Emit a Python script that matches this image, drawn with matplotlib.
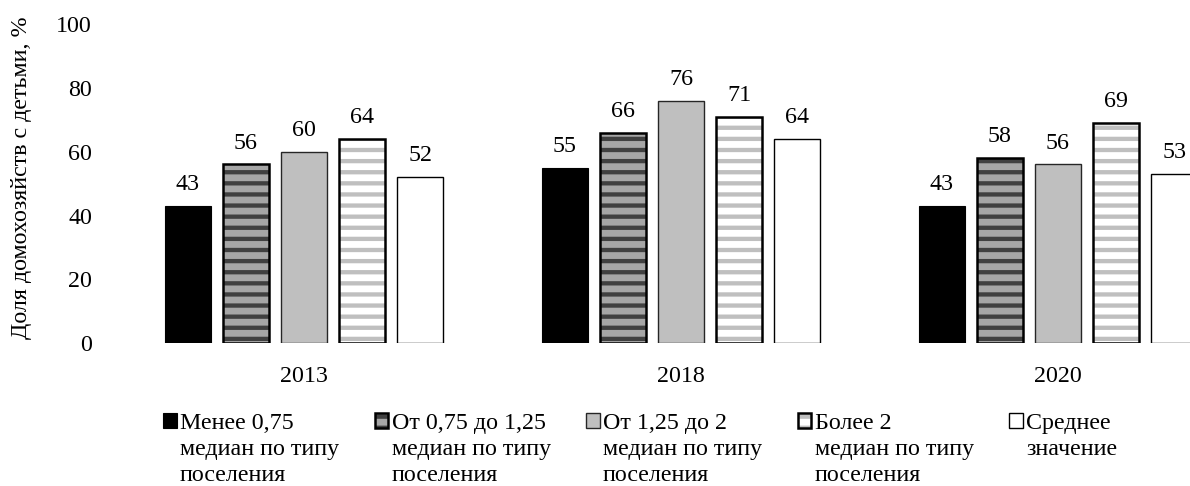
import matplotlib
matplotlib.use("Agg")
import matplotlib.pyplot as plt
import matplotlib.patches as mpatches
from matplotlib.backend_bases import GraphicsContextBase
import numpy as np

# finer hatch spacing (9 lines per inch instead of 6)
_orig_hatch_path = GraphicsContextBase.get_hatch_path
def _hatch_path(self, density=9.0):
    return _orig_hatch_path(self, density)
GraphicsContextBase.get_hatch_path = _hatch_path

FS = 17.3
plt.rcParams['font.family'] = ['Liberation Serif', 'DejaVu Serif']
plt.rcParams['font.size'] = FS
plt.rcParams['hatch.linewidth'] = 3.1

# ---- data ----
years = ["2013", "2018", "2020"]
series_names = [
    "Менее 0,75\nмедиан по типу\nпоселения",
    "От 0,75 до 1,25\nмедиан по типу\nпоселения",
    "От 1,25 до 2\nмедиан по типу\nпоселения",
    "Более 2\nмедиан по типу\nпоселения",
    "Среднее\nзначение",
]
less_075 = [43, 55, 43]
from_075_125 = [56, 66, 58]
from_125_2 = [60, 76, 56]
more_2 = [64, 71, 69]
average = [52, 64, 53]
values = [less_075, from_075_125, from_125_2, more_2, average]
y_ticks = [0, 20, 40, 60, 80, 100]
y_label = "Доля домохозяйств с детьми, %"

# ---- styles ----
styles = [
    dict(face="black", stripe=None, edge="black", lw=0.8),
    dict(face="#a6a6a6", stripe="#404040", edge="black", lw=1.8),
    dict(face="#bfbfbf", stripe=None, edge="#262626", lw=1.0),
    dict(face="white", stripe="#bfbfbf", edge="black", lw=1.8),
    dict(face="white", stripe=None, edge="black", lw=1.0),
]

W, H = 1190, 486
fig = plt.figure(figsize=(W / 100, H / 100), dpi=100)
ax_left, ax_right = 115.5, 1246.5
ax_bottom, ax_top = 486 - 343.3, 486 - 24.0
ax = fig.add_axes([ax_left / W, ax_bottom / H, (ax_right - ax_left) / W, (ax_top - ax_bottom) / H])

x = np.arange(len(years))
step = 0.154
width = 0.122
handles = []
for i, (vals, st) in enumerate(zip(values, styles)):
    pos = x + (i - 2) * step
    if st["stripe"] is not None:
        ax.bar(pos, vals, width, color=st["face"], edgecolor=st["stripe"],
               hatch="-", linewidth=0, zorder=2)
        ax.bar(pos, vals, width, facecolor="none", edgecolor=st["edge"],
               linewidth=st["lw"], zorder=3)
        h = (mpatches.Patch(facecolor=st["face"], edgecolor=st["stripe"], hatch="-", linewidth=0),
             mpatches.Patch(facecolor="none", edgecolor=st["edge"], linewidth=st["lw"]))
    else:
        ax.bar(pos, vals, width, color=st["face"], edgecolor=st["edge"],
               linewidth=st["lw"], zorder=2)
        h = mpatches.Patch(facecolor=st["face"], edgecolor=st["edge"], linewidth=st["lw"])
    handles.append(h)
    for xp, v in zip(pos, vals):
        ax.annotate(str(v), (xp, v), xytext=(0, 11.5), textcoords="offset points",
                    ha="center", va="baseline", fontsize=FS)

ax.set_xlim(-0.5, len(years) - 0.5)
ax.set_ylim(0, 100)
ax.set_yticks(y_ticks)
ax.set_xticks(x)
ax.set_xticklabels(years)
ax.tick_params(axis="y", length=0, pad=17, labelsize=FS)
ax.tick_params(axis="x", length=0, pad=16, labelsize=FS)
for s in ax.spines.values():
    s.set_visible(False)

ax.set_ylabel(y_label, fontsize=FS, va="center")
ax.yaxis.set_label_coords((22 - ax_left) / (ax_right - ax_left), 0.519)

leg = fig.legend(handles, series_names, loc="upper left",
                 bbox_to_anchor=(163 / W, 1 - 413 / H), bbox_transform=fig.transFigure,
                 ncol=5, frameon=False, borderpad=0, borderaxespad=0,
                 handlelength=0.58, handleheight=0.58, handletextpad=0.13,
                 columnspacing=1.47, fontsize=FS)
for t in leg.get_texts():
    t.set_linespacing(1.32)
hb = leg._legend_handle_box
hb.align = "top"
for col in hb.get_children():
    col.align = "left"
    for item in col.get_children():
        item.align = "top"

fig.savefig("out.png", dpi=100)
